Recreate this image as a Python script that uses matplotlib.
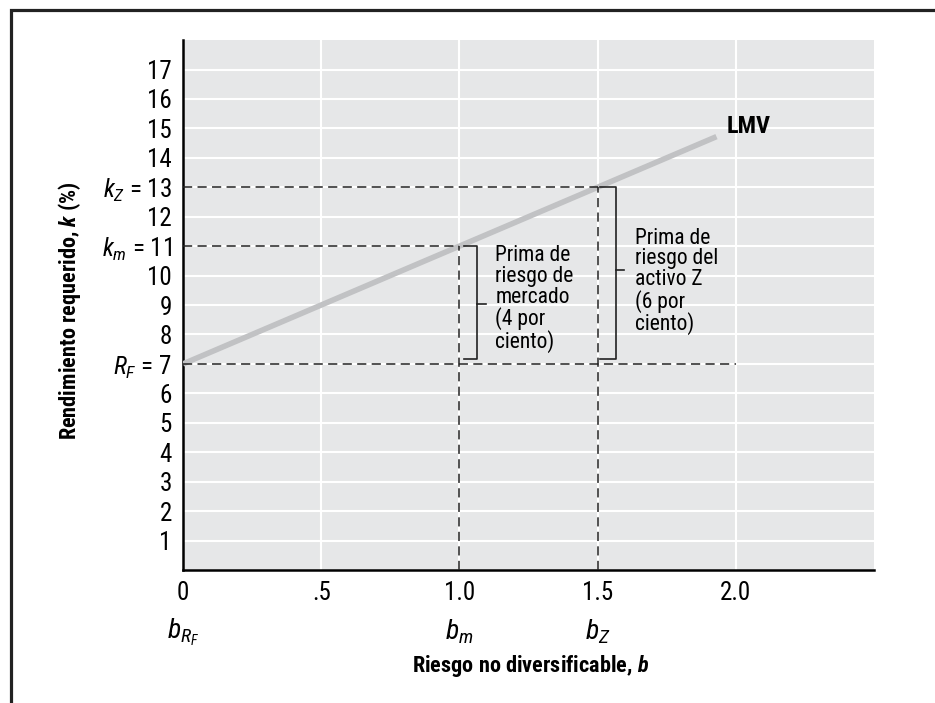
import matplotlib.pyplot as plt
from matplotlib.patches import Rectangle

FONT = 'Roboto Condensed'
plt.rcParams['font.family'] = [FONT, 'DejaVu Sans']
plt.rcParams['mathtext.fontset'] = 'custom'
plt.rcParams['mathtext.rm'] = FONT
plt.rcParams['mathtext.it'] = FONT + ':italic'
plt.rcParams['mathtext.bf'] = FONT + ':bold'
plt.rcParams['mathtext.bfit'] = FONT + ':italic:bold'

# data
sml_beta = [0.0, 1.93]
sml_return = [7.0, 14.72]
rf, km, kz = 7, 11, 13
b_rf, b_m, b_z = 0.0, 1.0, 1.5
x_ticks = [0, 0.5, 1.0, 1.5, 2.0]
x_tick_labels = ['0', '.5', '1.0', '1.5', '2.0']
y_ticks = list(range(1, 18))
y_tick_labels = [str(v) for v in y_ticks]
y_tick_labels[rf - 1] = r'$R_F$ = 7'
y_tick_labels[km - 1] = r'$k_m$ = 11'
y_tick_labels[kz - 1] = r'$k_Z$ = 13'
beta_names = [r'$b_{R_F}$', r'$b_m$', r'$b_Z$']
beta_pos = [b_rf, b_m, b_z]

fig = plt.figure(figsize=(9.35, 7.03), dpi=100)
ax = fig.add_axes([0.1957, 0.1892, 0.7391, 0.7538])
ax.set_facecolor('#e6e7e8')
ax.set_xlim(0, 2.5)
ax.set_ylim(0, 18)
ax.set_xticks(x_ticks)
ax.set_xticklabels(x_tick_labels)
ax.set_yticks(y_ticks)
ax.set_yticklabels(y_tick_labels)
ax.tick_params(length=0, labelsize=18, pad=8)
ax.grid(True, color='white', lw=1.5)
ax.set_axisbelow(True)
for s in ['top', 'right']:
    ax.spines[s].set_visible(False)
for s in ['left', 'bottom']:
    ax.spines[s].set_linewidth(1.8)

# SML
ax.plot(sml_beta, sml_return, color='#c1c2c4', lw=4, solid_capstyle='butt', zorder=3)
ax.text(1.965, 15.05, 'LMV', fontsize=17.5, fontweight='bold', va='center')

# dashed guides
dash = dict(color='#222222', lw=1.1, ls=(0, (6, 3.5)), zorder=4)
ax.plot([0, b_z], [kz, kz], **dash)
ax.plot([0, b_m], [km, km], **dash)
ax.plot([0, 2.0], [rf, rf], **dash)
ax.plot([b_m, b_m], [0, km], **dash)
ax.plot([b_z, b_z], [0, kz], **dash)

# brackets
br = dict(color='#222222', lw=1.2, zorder=4)
ax.plot([1.016, 1.063, 1.063, 1.016], [km, km, 7.15, 7.15], **br)
ax.plot([1.063, 1.095], [9.05, 9.05], **br)
ax.plot([1.51, 1.565, 1.565, 1.51], [kz, kz, 7.15, 7.15], **br)
ax.plot([1.565, 1.597], [10.2, 10.2], **br)

ax.text(1.13, 9.2, 'Prima de\nriesgo de\nmercado\n(4 por\nciento)', fontsize=15.5,
        va='center', ha='left', linespacing=0.98)
ax.text(1.635, 9.8, 'Prima de\nriesgo del\nactivo Z\n(6 por\nciento)', fontsize=15.5,
        va='center', ha='left', linespacing=0.98)

# beta labels under the axis
for name, pos in zip(beta_names, beta_pos):
    ax.text(pos, -0.117, name, transform=ax.get_xaxis_transform(), fontsize=20,
            ha='center', va='center')

fig.text(0.567, 0.0526, r'Riesgo no diversificable, $\mathbfit{b}$', fontsize=16,
         fontweight='bold', ha='center', va='center')
fig.text(0.0738, 0.5576, r'Rendimiento requerido, $\mathbfit{k}$ (%)', fontsize=16,
         fontweight='bold', ha='center', va='center', rotation=90)

fig.patches.append(Rectangle((0.0118, -0.2), 1.2, 1.2 - 0.0142, transform=fig.transFigure,
                             fill=False, lw=2.3, edgecolor='#222222'))

fig.savefig('out.png', dpi=100)
